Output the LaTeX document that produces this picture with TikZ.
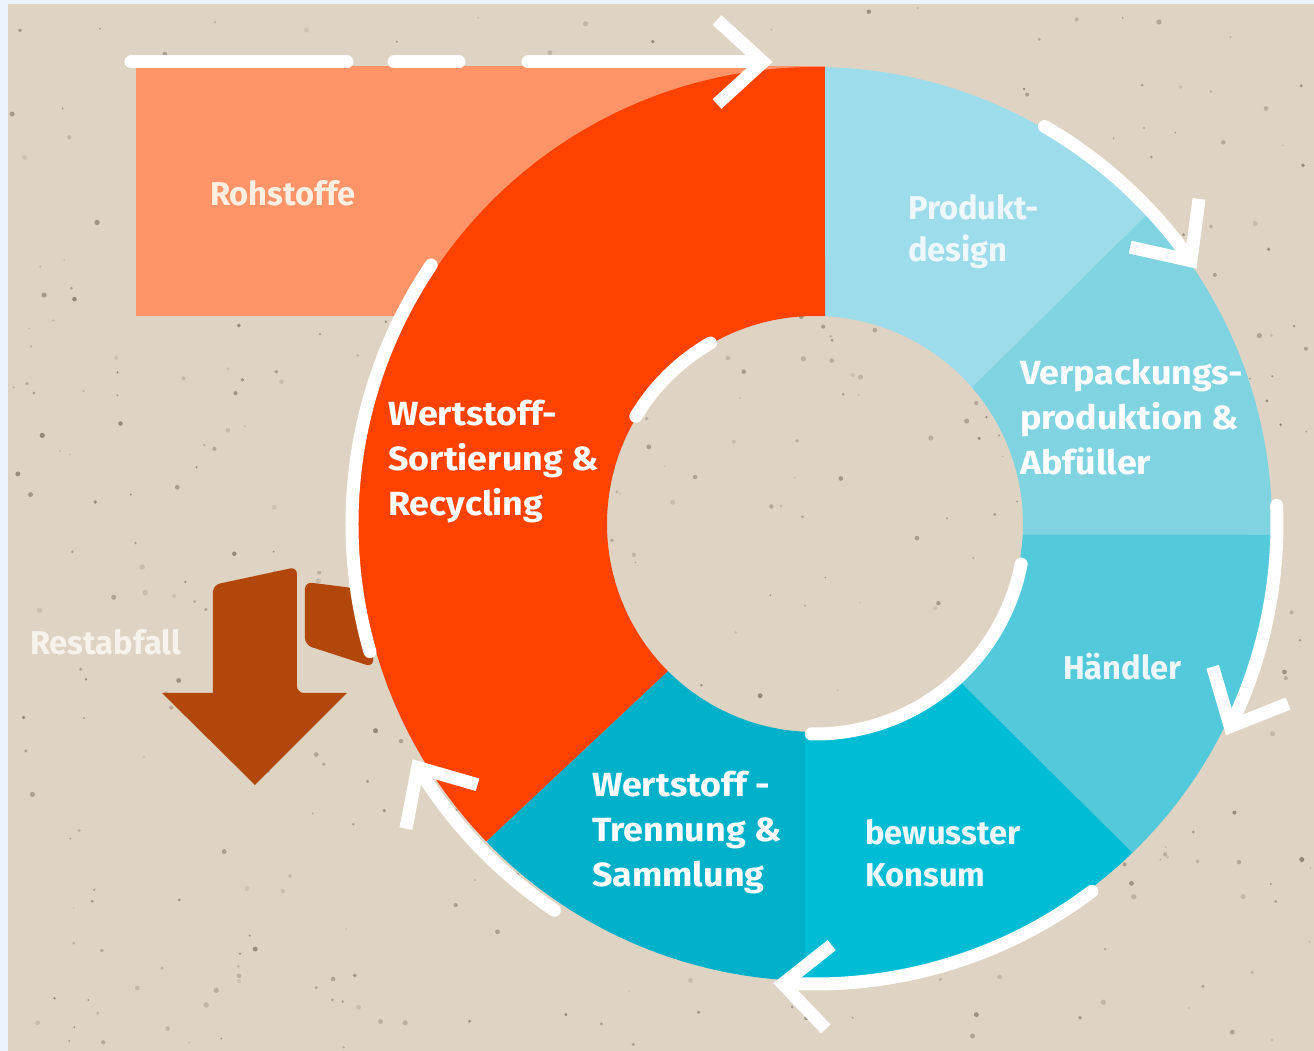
\documentclass[tikz,border=0pt]{standalone}
\usepackage{fontspec}
\setmainfont{Fira Sans}
\newfontfamily\widef[FakeStretch=1.07]{Fira Sans}
\newfontfamily\condf[FakeStretch=0.99]{Fira Sans}
\usetikzlibrary{calc}
\definecolor{cframe}{HTML}{EAF4FB}
\definecolor{cbg}{HTML}{DFD3C3}
\definecolor{speck}{HTML}{5A4E44}
\definecolor{cred}{HTML}{FF4200}
\definecolor{csalm}{HTML}{FF9468}
\definecolor{cprod}{HTML}{9DDCEA}
\definecolor{cverp}{HTML}{80D4E2}
\definecolor{chand}{HTML}{53C9DC}
\definecolor{ckons}{HTML}{00BDD5}
\definecolor{ctren}{HTML}{00B1C9}
\definecolor{cbrown}{HTML}{B2470B}
\definecolor{trohs}{HTML}{FFEEE2}
\definecolor{tblue}{HTML}{EEF8FA}
\definecolor{trest}{HTML}{F6F2EC}
\newcommand\RingO{457}
\newcommand\RingI{208}
\newcommand\annseg[5]{\fill[#1] (#2:\RingO) arc[start angle=#2,end angle=#3,radius=\RingO] -- (#5:\RingI) arc[start angle=#5,end angle=#4,radius=\RingI] -- cycle;}
\newcommand\chevron[2]{\draw[wchev, shift={(#1)}, rotate=#2] (-46,42) -- (0,0) -- (-46,-42);}
\tikzset{
  warc/.style={draw=white, line width=13pt, line cap=round},
  wchev/.style={draw=white, line width=13pt, line cap=butt, line join=miter},
  boldlab/.style={text=white, font=\widef\fontsize{33.5}{45}\selectfont\bfseries, align=left, inner sep=0pt, anchor=west},
  lightlab/.style={font=\condf\fontsize{33}{42}\selectfont\bfseries, align=left, inner sep=0pt, anchor=west},
}
\begin{document}
\begin{tikzpicture}[x=1pt,y=1pt]
\useasboundingbox (-815,-527) rectangle (499,524);
% frame and background
\fill[cframe] (-815,-527) rectangle (499,524);
\fill[cbg] (-807,-527) rectangle (499,520);
\pgfmathsetseed{4242}
\foreach \i in {1,...,520}{
  \pgfmathsetmacro{\sx}{-805+rnd*1302}
  \pgfmathsetmacro{\sy}{-525+rnd*1043}
  \pgfmathsetmacro{\sr}{0.8+rnd*1.9}
  \pgfmathsetmacro{\so}{0.12+rnd*0.45}
  \fill[speck, opacity=\so] (\sx,\sy) circle[radius=\sr];
}
% Rohstoffe block
\fill[csalm] (-679,208) rectangle (10,458);
% Restabfall arrow
\fill[cbrown, rounded corners=7pt] (-510,-121) -- (-510,-58) -- (-462,-64) -- (-440,-72) -- (-442,-143) -- cycle;
\fill[cbrown, rounded corners=7pt] (-602,-169) -- (-602,-61) -- (-518,-43) -- (-518,-169) [sharp corners] -- (-468,-169) -- (-560,-261) -- (-653,-169) -- cycle;
% ring segments
\annseg{cprod}{88.75}{43}{87.24}{41}
\annseg{cverp}{43}{-1.38}{41}{-3.03}
\annseg{chand}{-1.38}{-46}{-3.03}{-47.5}
\annseg{ckons}{-46}{-91.25}{-47.5}{-92.75}
\annseg{ctren}{-91.25}{-136}{-92.75}{-135}
\annseg{cred}{224}{88.75}{225}{87.24}
% top dashed arrow
\draw[warc] (-684,462) -- (-468,462);
\draw[warc] (-421,462) -- (-356,462);
\draw[warc] (-287,462) -- (-60,462);
\coordinate (tipA) at (-52,462);
\chevron{tipA}{0}
% outer arcs
\draw[warc] (60:459) arc[start angle=60, end angle=36, radius=459];
\coordinate (tipB) at (35:459);
\chevron{tipB}{-55}
\draw[warc] (2.3:462) arc[start angle=2.3, end angle=-25, radius=462];
\coordinate (tipC) at (-26:462);
\chevron{tipC}{-116}
\draw[warc] (-53:460) arc[start angle=-53, end angle=-93, radius=460];
\coordinate (tipD) at (-94:461);
\chevron{tipD}{-184}
\draw[warc] (236:466) arc[start angle=236, end angle=212.5, radius=466];
\coordinate (tipE) at (211.5:466);
\chevron{tipE}{121.5}
\draw[warc] (146:463) arc[start angle=146, end angle=196, radius=463];
% inner arcs
\draw[warc] (120:209) arc[start angle=120, end angle=149, radius=209];
\draw[warc] (-11:210) arc[start angle=-11, end angle=-91, radius=210];
% labels
\node[lightlab, text=trohs] (rohstoffe) at (-605,331) {Rohstoffe};
\node[lightlab, text=tblue] (produkt) at (93,292) {Produkt-\\design};
\node[boldlab] (verpackung) at (205,107) {Verpackungs-\\produktion \&\\Abfüller};
\node[lightlab, text=tblue] (haendler) at (248,-143) {Händler};
\node[lightlab, text=tblue] (konsum) at (50,-329) {bewusster\\Konsum};
\node[boldlab] (trennung) at (-223,-309) {Wertstoff -\\Trennung \&\\Sammlung};
\node[boldlab] (sortierung) at (-427,62) {Wertstoff-\\Sortierung \&\\Recycling};
\node[lightlab, text=trest] (restabfall) at (-785,-118) {Restabfall};
\end{tikzpicture}
\end{document}
